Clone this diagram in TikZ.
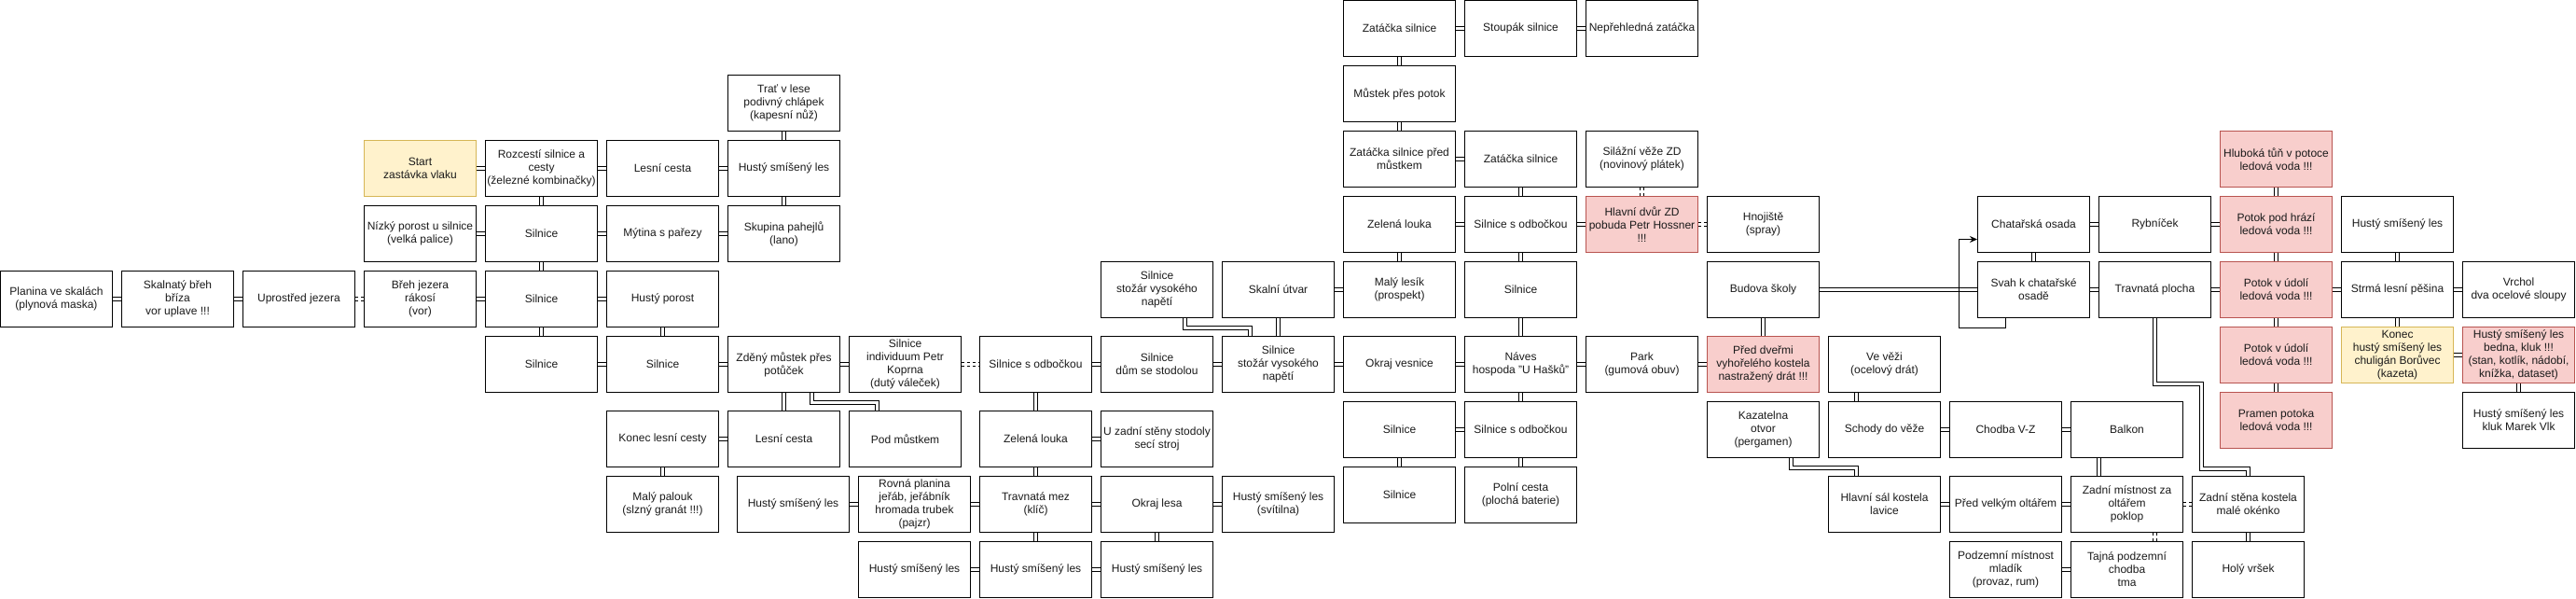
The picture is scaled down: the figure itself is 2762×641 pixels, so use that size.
\documentclass[tikz,border=0pt]{standalone}
\usepackage{fontspec}
\setmainfont{Liberation Sans}
\usetikzlibrary{arrows.meta}
\definecolor{yfill}{HTML}{FFF2CC}
\definecolor{ydraw}{HTML}{D6B656}
\definecolor{rfill}{HTML}{F8CECC}
\definecolor{rdraw}{HTML}{B85450}
\definecolor{txt}{HTML}{1A1A1A}
\tikzset{
  box/.style={draw=black, line width=1pt, minimum width=120pt, minimum height=60pt,
    inner sep=0pt, align=center, text=txt, font=\fontsize{12pt}{14pt}\selectfont},
  ybox/.style={box, draw=ydraw, fill=yfill},
  rbox/.style={box, draw=rdraw, fill=rfill},
  lnk/.style={draw=black, line width=1pt, double=white, double distance=3pt, line cap=butt, line join=miter},
  dlnk/.style={lnk, dash pattern=on 3pt off 3pt},
  arrowline/.style={draw=black, line width=1pt, -{Stealth[length=8pt,width=7pt]}}
}
\begin{document}
\begin{tikzpicture}[x=1pt,y=-1pt]
\useasboundingbox (-0.5,-0.5) rectangle (2761.5,640.5);
% ---- nodes ----
\node[box] (zat1) at (1500,30) {Zatáčka silnice};
\node[box] (stoup) at (1630,30) {Stoupák silnice};
\node[box] (nepr) at (1760,30) {Nepřehledná zatáčka};
\node[box] (mustek) at (1500,100) {Můstek přes potok};
\node[box] (trat) at (840,110) {Trať v lese\\podivný chlápek\\(kapesní nůž)};
\node[box] (zatpred) at (1500,170) {Zatáčka silnice před\\můstkem};
\node[box] (zat2) at (1630,170) {Zatáčka silnice};
\node[box] (silaz) at (1760,170) {Silážní věže ZD\\(novinový plátek)};
\node[rbox] (hluboka) at (2440,170) {Hluboká tůň v potoce\\ledová voda !!!};
\node[ybox] (start) at (450,180) {Start\\zastávka vlaku};
\node[box] (rozc) at (580,180) {Rozcestí silnice a\\cesty\\(železné kombinačky)};
\node[box] (lesni1) at (710,180) {Lesní cesta};
\node[box] (husty1) at (840,180) {Hustý smíšený les};
\node[box] (zelena2) at (1500,240) {Zelená louka};
\node[box] (odb2) at (1630,240) {Silnice s odbočkou};
\node[rbox] (dvur) at (1760,240) {Hlavní dvůr ZD\\pobuda Petr Hossner\\!!!};
\node[box] (hnoj) at (1890,240) {Hnojiště\\(spray)};
\node[box] (chat) at (2180,240) {Chatařská osada};
\node[box] (rybn) at (2310,240) {Rybníček};
\node[rbox] (potok1) at (2440,240) {Potok pod hrází\\ledová voda !!!};
\node[box] (hustyr) at (2570,240) {Hustý smíšený les};
\node[box] (nizky) at (450,250) {Nízký porost u silnice\\(velká palice)};
\node[box] (sil1) at (580,250) {Silnice};
\node[box] (mytina) at (710,250) {Mýtina s pařezy};
\node[box] (skup) at (840,250) {Skupina pahejlů\\(lano)};
\node[box] (stozar1) at (1240,310) {Silnice\\stožár vysokého\\napětí};
\node[box] (skalni) at (1370,310) {Skalní útvar};
\node[box] (lesik) at (1500,310) {Malý lesík\\(prospekt)};
\node[box] (silmid) at (1630,310) {Silnice};
\node[box] (budova) at (1890,310) {Budova školy};
\node[box] (svah) at (2180,310) {Svah k chatařské\\osadě};
\node[box] (travpl) at (2310,310) {Travnatá plocha};
\node[rbox] (potok2) at (2440,310) {Potok v údolí\\ledová voda !!!};
\node[box] (strma) at (2570,310) {Strmá lesní pěšina};
\node[box] (vrchol) at (2700,310) {Vrchol\\dva ocelové sloupy};
\node[box] (planina) at (60,320) {Planina ve skalách\\(plynová maska)};
\node[box] (skal) at (190,320) {Skalnatý břeh\\bříza\\vor uplave !!!};
\node[box] (upro) at (320,320) {Uprostřed jezera};
\node[box] (breh) at (450,320) {Břeh jezera\\rákosí\\(vor)};
\node[box] (sil2) at (580,320) {Silnice};
\node[box] (porost) at (710,320) {Hustý porost};
\node[rbox] (potok3) at (2440,380) {Potok v údolí\\ledová voda !!!};
\node[ybox] (konec) at (2570,380) {Konec\\hustý smíšený les\\chuligán Borůvec\\(kazeta)};
\node[rbox] (bedna) at (2700,380) {Hustý smíšený les\\bedna, kluk !!!\\(stan, kotlík, nádobí,\\knížka, dataset)};
\node[box] (sil3) at (580,390) {Silnice};
\node[box] (sil4) at (710,390) {Silnice};
\node[box] (zdeny) at (840,390) {Zděný můstek přes\\potůček};
\node[box] (koprna) at (970,390) {Silnice\\individuum Petr\\Koprna\\(dutý váleček)};
\node[box] (odb1) at (1110,390) {Silnice s odbočkou};
\node[box] (dum) at (1240,390) {Silnice\\dům se stodolou};
\node[box] (stozar2) at (1370,390) {Silnice\\stožár vysokého\\napětí};
\node[box] (okraj) at (1500,390) {Okraj vesnice};
\node[box] (naves) at (1630,390) {Náves\\hospoda "U Hašků"};
\node[box] (park) at (1760,390) {Park\\(gumová obuv)};
\node[rbox] (dvere) at (1890,390) {Před dveřmi\\vyhořelého kostela\\nastražený drát !!!};
\node[box] (vezi) at (2020,390) {Ve věži\\(ocelový drát)};
\node[rbox] (pramen) at (2440,450) {Pramen potoka\\ledová voda !!!};
\node[box] (vlk) at (2700,450) {Hustý smíšený les\\kluk Marek Vlk};
\node[box] (sil5) at (1500,460) {Silnice};
\node[box] (odb3) at (1630,460) {Silnice s odbočkou};
\node[box] (kazat) at (1890,460) {Kazatelna\\otvor\\(pergamen)};
\node[box] (schody) at (2020,460) {Schody do věže};
\node[box] (chodba) at (2150,460) {Chodba V-Z};
\node[box] (balkon) at (2280,460) {Balkon};
\node[box] (konecl) at (710,470) {Konec lesní cesty};
\node[box] (lesni2) at (840,470) {Lesní cesta};
\node[box] (pod) at (970,470) {Pod můstkem};
\node[box] (zelena1) at (1110,470) {Zelená louka};
\node[box] (stodola) at (1240,470) {U zadní stěny stodoly\\secí stroj};
\node[box] (sil6) at (1500,530) {Silnice};
\node[box] (polni) at (1630,530) {Polní cesta\\(plochá baterie)};
\node[box] (palouk) at (710,540) {Malý palouk\\(slzný granát !!!)};
\node[box] (husty2) at (850,540) {Hustý smíšený les};
\node[box] (rovna) at (980,540) {Rovná planina\\jeřáb, jeřábník\\hromada trubek\\(pajzr)};
\node[box] (mez) at (1110,540) {Travnatá mez\\(klíč)};
\node[box] (okrajl) at (1240,540) {Okraj lesa};
\node[box] (svitilna) at (1370,540) {Hustý smíšený les\\(svítilna)};
\node[box] (sal) at (2020,540) {Hlavní sál kostela\\lavice};
\node[box] (oltar) at (2150,540) {Před velkým oltářem};
\node[box] (zadni) at (2280,540) {Zadní místnost za\\oltářem\\poklop};
\node[box] (stena) at (2410,540) {Zadní stěna kostela\\malé okénko};
\node[box] (husty3) at (980,610) {Hustý smíšený les};
\node[box] (husty4) at (1110,610) {Hustý smíšený les};
\node[box] (husty5) at (1240,610) {Hustý smíšený les};
\node[box] (podzem) at (2150,610) {Podzemní místnost\\mladík\\(provaz, rum)};
\node[box] (tajna) at (2280,610) {Tajná podzemní\\chodba\\tma};
\node[box] (holy) at (2410,610) {Holý vršek};
% ---- horizontal links ----
\foreach \a/\b in {planina/skal, skal/upro, breh/sil2, sil2/porost,
  start/rozc, rozc/lesni1, lesni1/husty1, nizky/sil1, sil1/mytina, mytina/skup,
  sil3/sil4, sil4/zdeny, zdeny/koprna, odb1/dum, dum/stozar2, stozar2/okraj,
  okraj/naves, naves/park, park/dvere, konecl/lesni2, zelena1/stodola,
  husty2/rovna, rovna/mez, mez/okrajl, okrajl/svitilna, husty3/husty4, husty4/husty5,
  skalni/lesik, zat1/stoup, stoup/nepr, zatpred/zat2, zelena2/odb2, odb2/dvur,
  sil5/odb3, budova/svah, chat/rybn, svah/travpl, schody/chodba, chodba/balkon,
  sal/oltar, oltar/zadni, podzem/tajna, rybn/potok1, travpl/potok2, potok2/strma,
  strma/vrchol, konec/bedna}
  \draw[lnk] (\a.east) -- (\b.west);
\foreach \a/\b in {upro/breh, koprna/odb1, dvur/hnoj, zadni/stena}
  \draw[dlnk] (\a.east) -- (\b.west);
% ---- vertical links ----
\foreach \a/\b in {trat/husty1, husty1/skup, rozc/sil1, sil1/sil2, sil2/sil3, porost/sil4,
  zdeny/lesni2, konecl/palouk, odb1/zelena1, zelena1/mez, mez/husty4, okrajl/husty5,
  skalni/stozar2, zat1/mustek, mustek/zatpred, zat2/odb2, zelena2/lesik, odb2/silmid,
  silmid/naves, naves/odb3, sil5/sil6, odb3/polni, budova/dvere, chat/svah,
  stena/holy, hluboka/potok1, potok1/potok2, hustyr/strma, potok2/potok3,
  strma/konec, potok3/pramen, bedna/vlk}
  \draw[lnk] (\a.south) -- (\b.north);
\draw[dlnk] (silaz.south) -- (dvur.north);
\draw[lnk] ([xshift=-30pt]vezi.south) -- ([xshift=-30pt]schody.north);
\draw[lnk] ([xshift=-30pt]balkon.south) -- ([xshift=-30pt]zadni.north);
\draw[dlnk] ([xshift=30pt]zadni.south) -- ([xshift=30pt]tajna.north);
% ---- elbow links ----
\draw[lnk] ([xshift=30pt]zdeny.south) -- ++(0,10) -| ([xshift=-30pt]pod.north);
\draw[lnk] ([xshift=30pt]stozar1.south) -- ++(0,10) -| ([xshift=-30pt]stozar2.north);
\draw[lnk] ([xshift=30pt]kazat.south) -- ++(0,10) -| ([xshift=-30pt]sal.north);
\draw[lnk] (travpl.south) -- ++(0,70) -- ++(50,0) -- ++(0,91) -- ++(50,0) -- (stena.north);
% ---- arrow ----
\draw[arrowline] ([xshift=-30pt]svah.south) -- ++(0,10) -- ++(-50,0) |- ([yshift=-16pt]chat.west);
\end{tikzpicture}
\end{document}
